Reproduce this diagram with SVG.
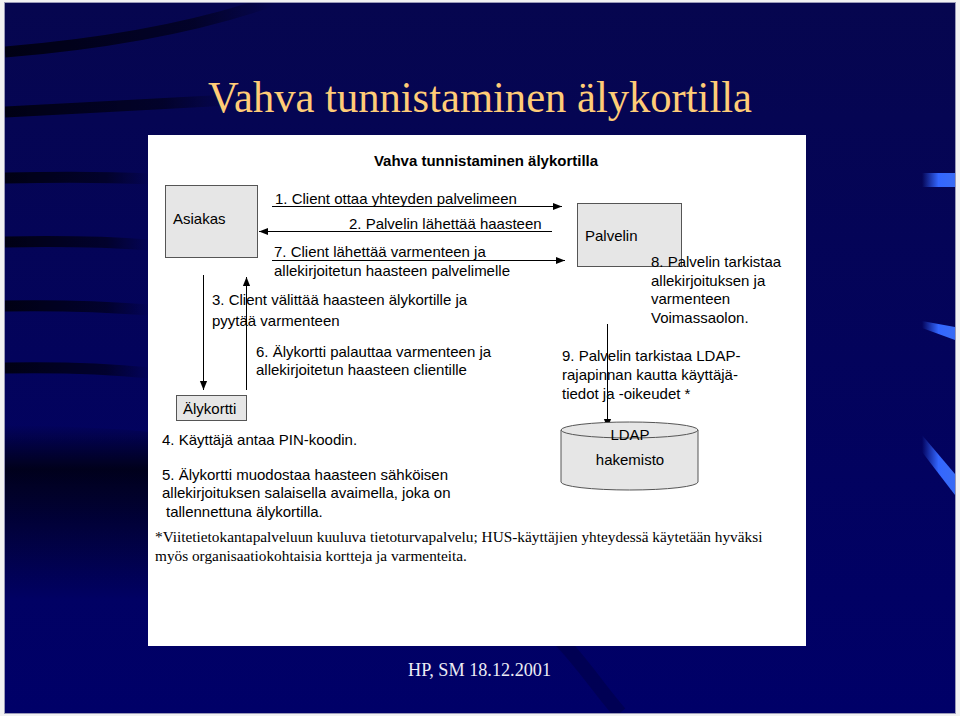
<svg xmlns="http://www.w3.org/2000/svg" width="960" height="716" viewBox="0 0 960 716">
<defs>
<style>
.t{font-family:"Liberation Sans",Arial,sans-serif;font-size:15px;fill:#000}
.s{font-family:"Liberation Serif","Times New Roman",serif}
.box{fill:#E6E6E6;stroke:#555;stroke-width:1}
.ln{stroke:#000;stroke-width:1;fill:none}
.band{fill:none;stroke:url(#fadeDark);stroke-width:11}
</style>
<clipPath id="slide"><rect x="5" y="3" width="950" height="710"/></clipPath>
<linearGradient id="bg" x1="0" y1="0" x2="0" y2="1">
<stop offset="0" stop-color="#06064f"/>
<stop offset="1" stop-color="#000068"/>
</linearGradient>
<linearGradient id="fadeDark" x1="0" y1="0" x2="1" y2="0">
<stop offset="0" stop-color="#000010" stop-opacity="0.95"/>
<stop offset="0.7" stop-color="#000010" stop-opacity="0.6"/>
<stop offset="1" stop-color="#000010" stop-opacity="0"/>
</linearGradient>
<linearGradient id="shade" x1="0" y1="0" x2="0" y2="1">
<stop offset="0" stop-color="#000010" stop-opacity="0"/>
<stop offset="0.25" stop-color="#000010" stop-opacity="0.85"/>
<stop offset="1" stop-color="#000010" stop-opacity="0"/>
</linearGradient>
<linearGradient id="blueBar" x1="0" y1="0" x2="1" y2="0">
<stop offset="0" stop-color="#3366ff" stop-opacity="0"/>
<stop offset="0.5" stop-color="#3366ff" stop-opacity="1"/>
<stop offset="1" stop-color="#3a6cf5"/>
</linearGradient>
<marker id="ah" viewBox="0 0 10 10" refX="10" refY="5" markerWidth="9" markerHeight="9" markerUnits="userSpaceOnUse" orient="auto">
<path d="M0,1 L10,5 L0,9 Z" fill="#000"/>
</marker>
</defs>

<!-- slide background -->
<rect x="0" y="0" width="960" height="716" fill="#f2f2f2"/>
<rect x="4.5" y="2.5" width="951" height="711" fill="url(#bg)" stroke="#9a9ab8" stroke-width="1"/>

<!-- decorative bands -->
<g id="decor" clip-path="url(#slide)">
<path class="band" d="M5,52 C90,45 190,30 275,0"/>
<path class="band" d="M5,112 C80,108 160,104 230,100" stroke-width="12"/>
<path class="band" d="M5,178 C60,177 110,177 150,179"/>
<path class="band" d="M5,242 C60,241 110,242 150,245"/>
<path class="band" d="M5,306 C60,305 110,307 150,310"/>
<path class="band" d="M5,368 C60,367 110,369 150,373"/>
<path d="M5,425 C60,426 110,428 150,432 L150,600 L5,600 Z" fill="url(#shade)"/>
<path d="M560,640 C580,660 600,690 620,713" stroke="#000030" stroke-opacity="0.35" stroke-width="14" fill="none"/>
<polygon points="922,173 955,173 955,187 922,187" fill="url(#blueBar)"/>
<polygon points="922,321 955,327 955,340 922,328" fill="url(#blueBar)"/>
<polygon points="922,435 955,474 955,495 922,452" fill="url(#blueBar)"/>
</g>

<!-- title -->
<text class="s" x="208" y="112" font-size="44" fill="#FFCC77" textLength="544" lengthAdjust="spacingAndGlyphs">Vahva tunnistaminen älykortilla</text>

<!-- white panel -->
<rect x="148" y="135" width="658" height="511" fill="#ffffff"/>

<text class="t" x="486" y="166" text-anchor="middle" font-weight="bold" font-size="16">Vahva tunnistaminen älykortilla</text>

<!-- connectors -->
<g id="connectors">
<line class="ln" x1="272" y1="206.5" x2="562" y2="206.5" marker-end="url(#ah)"/>
<line class="ln" x1="552" y1="231.5" x2="259" y2="231.5" marker-end="url(#ah)"/>
<line class="ln" x1="272" y1="260.5" x2="565" y2="260.5" marker-end="url(#ah)"/>
<line class="ln" x1="203.5" y1="275" x2="203.5" y2="390" marker-end="url(#ah)"/>
<line class="ln" x1="246.5" y1="390" x2="246.5" y2="277" marker-end="url(#ah)"/>
<line class="ln" x1="607.5" y1="324" x2="607.5" y2="428" marker-end="url(#ah)"/>
</g>

<g id="node-asiakas">
<rect class="box" x="165.5" y="185.5" width="92" height="72"/>
<text class="t" x="173" y="224">Asiakas</text>
</g>

<g id="node-palvelin">
<rect class="box" x="577.5" y="203.5" width="104" height="63"/>
<text class="t" x="585" y="241">Palvelin</text>
</g>

<g id="node-alykortti">
<rect class="box" x="176.5" y="395.5" width="70" height="25"/>
<text class="t" x="183" y="414">Älykortti</text>
</g>

<g id="node-ldap">
<path class="box" d="M561,430 L561,482 A68.5,8 0 0 0 698,482 L698,430"/>
<ellipse class="box" cx="629.5" cy="430" rx="68.5" ry="8"/>
<text class="t" x="630" y="440" text-anchor="middle">LDAP</text>
<text class="t" x="630" y="465" text-anchor="middle">hakemisto</text>
</g>

<!-- labels -->
<g id="labels">
<text class="t" x="275" y="204">1. Client ottaa yhteyden palvelimeen</text>
<text class="t" x="349" y="229">2. Palvelin lähettää haasteen</text>
<text class="t" x="274" y="257">7. Client lähettää varmenteen ja</text>
<text class="t" x="274" y="276">allekirjoitetun haasteen palvelimelle</text>
<text class="t" x="651" y="267">8. Palvelin tarkistaa</text>
<text class="t" x="651" y="286">allekirjoituksen ja</text>
<text class="t" x="651" y="304">varmenteen</text>
<text class="t" x="651" y="323">Voimassaolon.</text>
<text class="t" x="212" y="305">3. Client välittää haasteen älykortille ja</text>
<text class="t" x="212" y="326">pyytää varmenteen</text>
<text class="t" x="256" y="357">6. Älykortti palauttaa varmenteen ja</text>
<text class="t" x="256" y="375">allekirjoitetun haasteen clientille</text>
<text class="t" x="562" y="361">9. Palvelin tarkistaa LDAP-</text>
<text class="t" x="562" y="380">rajapinnan kautta käyttäjä-</text>
<text class="t" x="562" y="399">tiedot ja -oikeudet *</text>
<text class="t" x="162" y="445">4. Käyttäjä antaa PIN-koodin.</text>
<text class="t" x="162" y="480">5. Älykortti muodostaa haasteen sähköisen</text>
<text class="t" x="162" y="498">allekirjoituksen salaisella avaimella, joka on</text>
<text class="t" x="166" y="517">tallennettuna älykortilla.</text>
<text class="s" x="155" y="542" font-size="15.3" fill="#000">*Viitetietokantapalveluun kuuluva tietoturvapalvelu; HUS-käyttäjien yhteydessä käytetään hyväksi</text>
<text class="s" x="155" y="561" font-size="15.3" fill="#000">myös organisaatiokohtaisia kortteja ja varmenteita.</text>
</g>

<text class="s" x="408" y="676" font-size="18.2" fill="#ececf4">HP, SM 18.12.2001</text>
</svg>
